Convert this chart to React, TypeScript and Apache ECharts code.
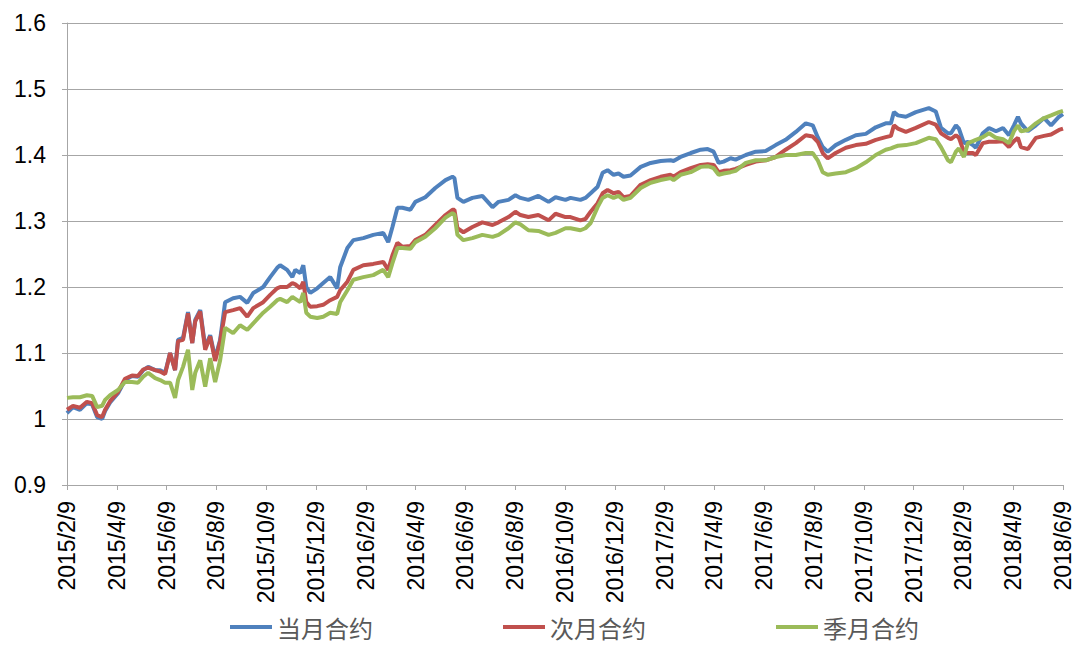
import React, { useEffect, useRef } from "react";
import * as echarts from "echarts";

// x positions: months elapsed since 2015/2/9
const monthOffset = [
  0, 0.24, 0.52, 0.8, 1.01, 1.21, 1.41, 1.53, 1.73, 2.05, 2.33, 2.61, 2.85, 3.06, 3.26, 3.54, 3.74, 3.94,
  4.14, 4.34, 4.46, 4.66, 4.86, 5.03, 5.15, 5.35, 5.55, 5.75, 5.95, 6.15, 6.35, 6.67, 6.95, 7.24, 7.48,
  7.88, 8.16, 8.44, 8.56, 8.84, 9.05, 9.17, 9.37, 9.49, 9.61, 9.77, 10.05, 10.29, 10.57, 10.85, 10.97,
  11.26, 11.5, 11.9, 12.3, 12.7, 12.9, 13.07, 13.27, 13.47, 13.79, 13.99, 14.39, 14.79, 15.2, 15.48,
  15.56, 15.68, 15.92, 16.28, 16.68, 17.09, 17.33, 17.73, 18.01, 18.21, 18.53, 18.93, 19.34, 19.62,
  20.02, 20.22, 20.62, 20.82, 21.03, 21.31, 21.51, 21.71, 21.95, 22.15, 22.35, 22.63, 23.04, 23.44,
  23.84, 24.24, 24.36, 24.64, 25.05, 25.45, 25.73, 25.97, 26.17, 26.37, 26.65, 26.85, 27.26, 27.66,
  28.06, 28.46, 28.86, 29.27, 29.67, 29.95, 30.15, 30.35, 30.55, 30.87, 31.28, 31.68, 32.08, 32.48,
  32.88, 33.09, 33.21, 33.37, 33.69, 34.09, 34.61, 34.89, 35.1, 35.38, 35.5, 35.7, 35.82, 36.02, 36.18,
  36.38, 36.5, 36.78, 37.03, 37.31, 37.59, 37.83, 38.03, 38.19, 38.31, 38.59, 38.91, 39.24, 39.52,
  39.84, 40,
];

const currentMonth = [
  1.009, 1.018, 1.014, 1.024, 1.022, 1.003, 1.0, 1.012, 1.025, 1.039, 1.059, 1.065, 1.064, 1.074, 1.079,
  1.074, 1.074, 1.07, 1.1, 1.074, 1.12, 1.123, 1.162, 1.115, 1.15, 1.165, 1.109, 1.127, 1.092, 1.12,
  1.177, 1.183, 1.185, 1.176, 1.191, 1.2, 1.215, 1.229, 1.233, 1.226, 1.215, 1.226, 1.221, 1.233, 1.2,
  1.191, 1.198, 1.206, 1.215, 1.198, 1.23, 1.259, 1.271, 1.274, 1.279, 1.282, 1.268, 1.291, 1.32, 1.32,
  1.317, 1.329, 1.336, 1.35, 1.362, 1.367, 1.365, 1.335, 1.329, 1.335, 1.338, 1.321, 1.329, 1.332,
  1.339, 1.335, 1.332, 1.338, 1.329, 1.336, 1.332, 1.335, 1.332, 1.335, 1.342, 1.352, 1.373, 1.377,
  1.37, 1.372, 1.367, 1.369, 1.382, 1.388, 1.391, 1.392, 1.391, 1.397, 1.403, 1.408, 1.409, 1.405,
  1.388, 1.39, 1.395, 1.393, 1.4, 1.405, 1.406, 1.415, 1.423, 1.435, 1.448, 1.445, 1.427, 1.412, 1.405,
  1.415, 1.423, 1.43, 1.432, 1.442, 1.448, 1.448, 1.465, 1.46, 1.458, 1.465, 1.471, 1.466, 1.441, 1.433,
  1.433, 1.445, 1.44, 1.418, 1.42, 1.415, 1.411, 1.433, 1.441, 1.436, 1.441, 1.43, 1.445, 1.458, 1.448,
  1.436, 1.445, 1.456, 1.445, 1.458, 1.462,
];

const nextMonth = [
  1.014, 1.02, 1.017, 1.026, 1.024, 1.006, 1.003, 1.014, 1.027, 1.041, 1.061, 1.066, 1.065, 1.075, 1.078,
  1.074, 1.072, 1.068, 1.1, 1.074, 1.118, 1.12, 1.16, 1.115, 1.148, 1.163, 1.105, 1.125, 1.088, 1.118,
  1.162, 1.165, 1.168, 1.155, 1.168, 1.177, 1.188, 1.198, 1.2, 1.2, 1.206, 1.204, 1.198, 1.208, 1.177,
  1.17, 1.171, 1.173, 1.18, 1.185, 1.195, 1.208, 1.226, 1.233, 1.235, 1.238, 1.226, 1.248, 1.267, 1.261,
  1.262, 1.271, 1.279, 1.294, 1.309, 1.317, 1.317, 1.289, 1.283, 1.291, 1.298, 1.294, 1.298, 1.306,
  1.314, 1.309, 1.306, 1.309, 1.301, 1.311, 1.306, 1.306, 1.301, 1.303, 1.314, 1.327, 1.342, 1.347,
  1.342, 1.344, 1.336, 1.338, 1.355, 1.362, 1.367, 1.37, 1.367, 1.374, 1.38, 1.385, 1.386, 1.385, 1.374,
  1.376, 1.377, 1.379, 1.385, 1.39, 1.392, 1.397, 1.408, 1.418, 1.43, 1.428, 1.42, 1.403, 1.395, 1.403,
  1.411, 1.415, 1.417, 1.423, 1.427, 1.429, 1.445, 1.44, 1.435, 1.441, 1.45, 1.446, 1.433, 1.426, 1.424,
  1.43, 1.426, 1.405, 1.403, 1.403, 1.4, 1.418, 1.42, 1.42, 1.421, 1.412, 1.421, 1.426, 1.412, 1.409,
  1.426, 1.429, 1.431, 1.438, 1.44,
];

const quarterMonth = [
  1.032, 1.033, 1.033, 1.036, 1.035, 1.018, 1.02, 1.029, 1.036, 1.044, 1.056, 1.056, 1.055, 1.064, 1.07,
  1.062, 1.059, 1.055, 1.055, 1.032, 1.059, 1.079, 1.105, 1.044, 1.07, 1.089, 1.049, 1.092, 1.056, 1.089,
  1.138, 1.13, 1.142, 1.135, 1.145, 1.161, 1.17, 1.18, 1.182, 1.177, 1.185, 1.182, 1.177, 1.191, 1.161,
  1.155, 1.153, 1.155, 1.161, 1.159, 1.177, 1.195, 1.211, 1.215, 1.218, 1.226, 1.215, 1.236, 1.259, 1.259,
  1.258, 1.268, 1.276, 1.289, 1.305, 1.312, 1.31, 1.279, 1.271, 1.274, 1.279, 1.276, 1.279, 1.289, 1.298,
  1.295, 1.286, 1.285, 1.279, 1.282, 1.289, 1.289, 1.286, 1.289, 1.297, 1.321, 1.335, 1.339, 1.335,
  1.338, 1.332, 1.335, 1.35, 1.358, 1.362, 1.365, 1.362, 1.37, 1.374, 1.382, 1.383, 1.38, 1.37, 1.372,
  1.374, 1.376, 1.388, 1.392, 1.392, 1.397, 1.4, 1.4, 1.403, 1.403, 1.392, 1.374, 1.37, 1.372, 1.374,
  1.38, 1.389, 1.4, 1.408, 1.41, 1.412, 1.414, 1.415, 1.418, 1.426, 1.424, 1.412, 1.392, 1.389, 1.405,
  1.41, 1.397, 1.418, 1.421, 1.423, 1.427, 1.433, 1.426, 1.424, 1.418, 1.436, 1.445, 1.436, 1.438, 1.448,
  1.456, 1.46, 1.465, 1.467,
];

const tickLabels = [
  "2015/2/9", "2015/4/9", "2015/6/9", "2015/8/9", "2015/10/9", "2015/12/9", "2016/2/9", "2016/4/9",
  "2016/6/9", "2016/8/9", "2016/10/9", "2016/12/9", "2017/2/9", "2017/4/9", "2017/6/9", "2017/8/9",
  "2017/10/9", "2017/12/9", "2018/2/9", "2018/4/9", "2018/6/9",
];

const seriesNames = ["当月合约", "次月合约", "季月合约"];
const seriesColors = ["#4F81BD", "#C0504D", "#9BBB59"];
const seriesValues = [currentMonth, nextMonth, quarterMonth];

export default function App() {
  const ref = useRef<HTMLDivElement>(null);
  useEffect(() => {
    if (!ref.current) return;
    const chart = echarts.init(ref.current, null, { renderer: "svg" });
    const font = '"Liberation Sans", Arial, sans-serif';
    chart.setOption({
      animation: false,
      backgroundColor: "#ffffff",
      grid: { left: 67, right: 20, top: 23, bottom: 163, containLabel: false },
      legend: {
        left: 225,
        top: 610,
        itemGap: 130,
        itemWidth: 42,
        itemHeight: 4,
        icon: "rect",
        textStyle: { fontSize: 24, color: "#595959", fontFamily: '"Noto Sans CJK SC", sans-serif' },
        data: seriesNames,
      },
      xAxis: {
        type: "value",
        min: 0,
        max: 40,
        interval: 2,
        splitLine: { show: false },
        axisLine: { show: true, lineStyle: { color: "#A6A6A6", width: 1 } },
        axisTick: { show: true, inside: false, length: 5, lineStyle: { color: "#A6A6A6" } },
        axisLabel: {
          rotate: 90,
          margin: 16,
          fontSize: 23,
          color: "#000000",
          fontFamily: font,
          formatter: (v: number) => tickLabels[Math.round(v / 2)] ?? "",
        },
      },
      yAxis: {
        type: "value",
        min: 0.9,
        max: 1.6,
        interval: 0.1,
        splitLine: { show: true, lineStyle: { color: "#A6A6A6", width: 1 } },
        axisLine: { show: true, lineStyle: { color: "#A6A6A6", width: 1 } },
        axisTick: { show: true, inside: false, length: 5, lineStyle: { color: "#A6A6A6" } },
        axisLabel: { margin: 21, fontSize: 23, color: "#000000", fontFamily: font },
      },
      series: seriesNames.map((name, i) => ({
        name,
        type: "line",
        showSymbol: false,
        symbol: "none",
        color: seriesColors[i],
        lineStyle: { width: 4, color: seriesColors[i] },
        data: monthOffset.map((t, j) => [t, seriesValues[i][j]]),
      })),
    });
    return () => chart.dispose();
  }, []);
  return (
    <div
      ref={ref}
      style={{ position: "fixed", left: 0, top: 0, width: 1083, height: 648 }}
    />
  );
}
